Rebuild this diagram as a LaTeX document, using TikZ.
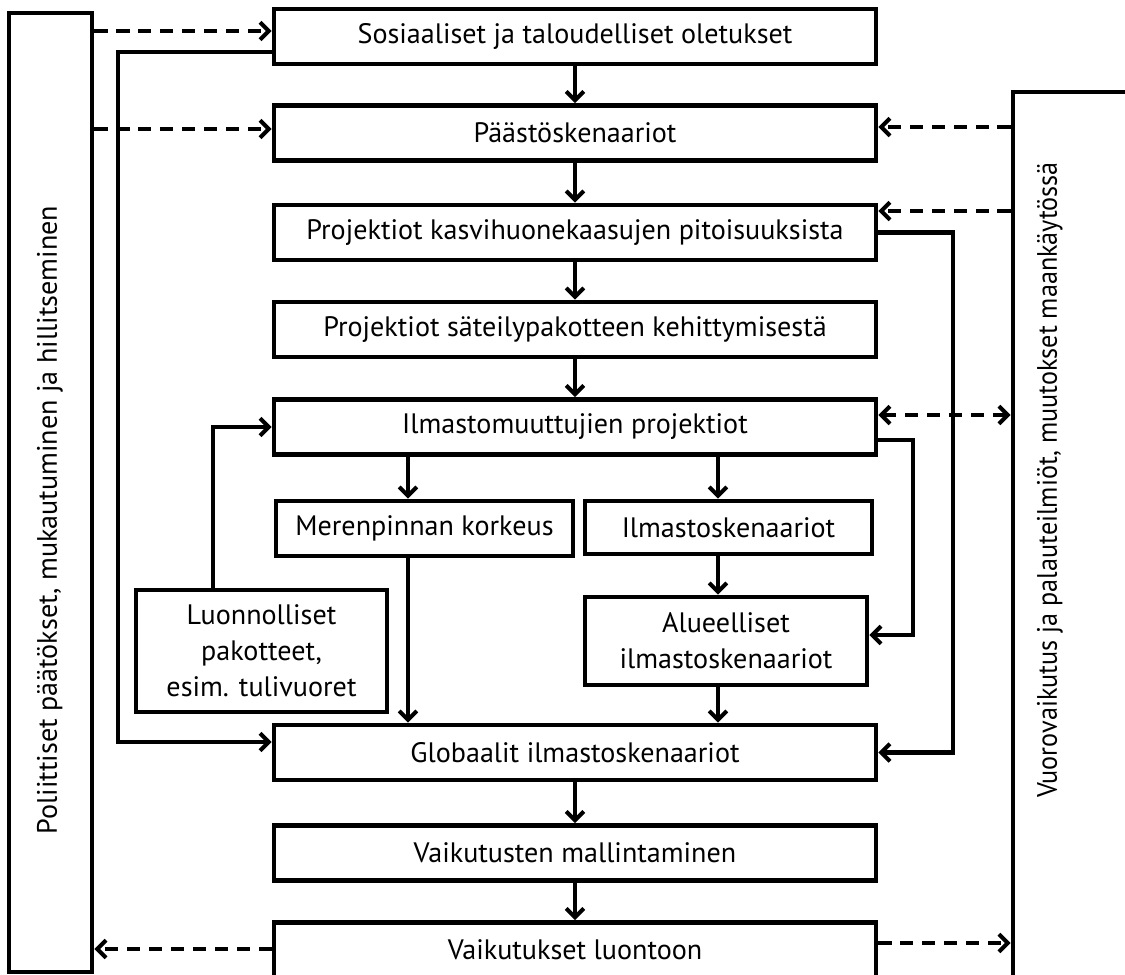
\documentclass[tikz,border=0pt]{standalone}
\usepackage{fontspec}
\setmainfont{PT Sans}
\usepackage{graphicx}
\usetikzlibrary{calc,positioning,arrows.meta}
\tikzset{
 >={Straight Barb[length=5pt,width=10pt]},
 cc box/.style={draw=black,line width=2.7pt,minimum height=1.1cm,inner sep=2pt,
                align=center,font=\fontsize{16}{20.5}\selectfont},
 cc main/.style={cc box,minimum width=12.04cm},
 cc bar/.style={draw=black,line width=2.7pt,inner sep=0pt},
 cc flow/.style={line width=2.3pt,->},
 cc link/.style={cc flow,dash pattern=on 7.5pt off 5pt},
 cc side label/.style={rotate=90,font=\fontsize{16}{19}\selectfont}
}

\begin{document}
\begin{tikzpicture}[x=0.02cm,y=-0.02cm]
 \useasboundingbox (0,0) rectangle (1125,974);

 % side bars
 \node[cc bar,minimum width=1.66cm,minimum height=19.18cm] (lbar) at (50.5,492.5) {};
 \node[cc side label] (llabel) at (50,520)
   {Poliittiset päätökset, mukautuminen ja hillitseminen};
 \node[cc bar,minimum width=2.54cm,minimum height=17.96cm] (rbar) at (1076.5,541) {};
 \node[cc side label] (rlabel) at (1050,480)
   {\scalebox{0.93}[1]{Vuorovaikutus ja palauteilmiöt, muutokset maankäytössä}};

 % main column
 \node[cc main] (soc)  at (575,36.5)  {Sosiaaliset ja taloudelliset oletukset};
 \node[cc main] (emis) at (575,133)   {Päästöskenaariot};
 \node[cc main] (conc) at (575,232.5) {Projektiot kasvihuonekaasujen pitoisuuksista};
 \node[cc main] (forc) at (575,329.5) {Projektiot säteilypakotteen kehittymisestä};
 \node[cc main] (clim) at (575,427)   {Ilmastomuuttujien projektiot};
 \node[cc box,minimum width=5.94cm] (sea)  at (424.5,528.5) {Merenpinnan korkeus};
 \node[cc box,minimum width=5.74cm,minimum height=1.06cm] (scen) at (728.5,527.5) {Ilmastoskenaariot};
 \node[cc box,minimum width=5.64cm,minimum height=1.76cm] (reg)  at (726,641)
   {Alueelliset\\ilmastoskenaariot};
 \node[cc box,minimum width=5.02cm,minimum height=2.44cm] (nat)  at (261.5,651)
   {Luonnolliset\\pakotteet,\\esim. tulivuoret};
 \node[cc main] (glob) at (575,752.5) {Globaalit ilmastoskenaariot};
 \node[cc main] (impm) at (575,853)   {Vaikutusten mallintaminen};
 \node[cc main] (imp)  at (575,950)   {Vaikutukset luontoon};

 \coordinate (xsea)  at (408,0);
 \coordinate (xreg)  at (718,0);
 \coordinate (xnat)  at (213,0);
 \coordinate (xleft) at (118,0);
 \coordinate (xconc) at (953,0);
 \coordinate (xclim) at (913,0);

 \foreach \a/\b in {soc/emis,emis/conc,conc/forc,forc/clim,glob/impm,impm/imp}
   \draw[cc flow] (\a) -- (\b);
 \draw[cc flow] (clim.south -| xsea) -- (sea.north -| xsea);
 \draw[cc flow] (sea.south -| xsea) -- (glob.north -| xsea);
 \foreach \a/\b in {clim/scen,scen/reg,reg/glob}
   \draw[cc flow] (\a.south -| xreg) -- (\b.north -| xreg);
 \draw[cc flow] (nat.north -| xnat) |- (clim.west);
 \draw[cc flow] (soc.west |- 0,52) -| (xleft |- 0,742) -- (glob.west |- 0,742);
 \draw[cc flow] (conc.east) -| (xconc |- glob.east) -- (glob.east);
 \draw[cc flow] (clim.east |- 0,440) -| (xclim |- 0,635) -- (reg.east |- 0,635);

 % feedback links to the side bars
 \draw[cc link] (lbar.east |- 0,31) -- (soc.west |- 0,31);
 \draw[cc link] (lbar.east |- 0,129) -- (emis.west |- 0,129);
 \draw[cc link] (rbar.west |- 0,127) -- (emis.east |- 0,127);
 \draw[cc link] (rbar.west |- 0,211) -- (conc.east |- 0,211);
 \draw[cc link,<->] (clim.east |- 0,415) -- (rbar.west |- 0,415);
 \draw[cc link] (imp.west |- 0,949) -- (lbar.east |- 0,949);
 \draw[cc link] (imp.east |- 0,943) -- (rbar.west |- 0,943);
\end{tikzpicture}
\end{document}
